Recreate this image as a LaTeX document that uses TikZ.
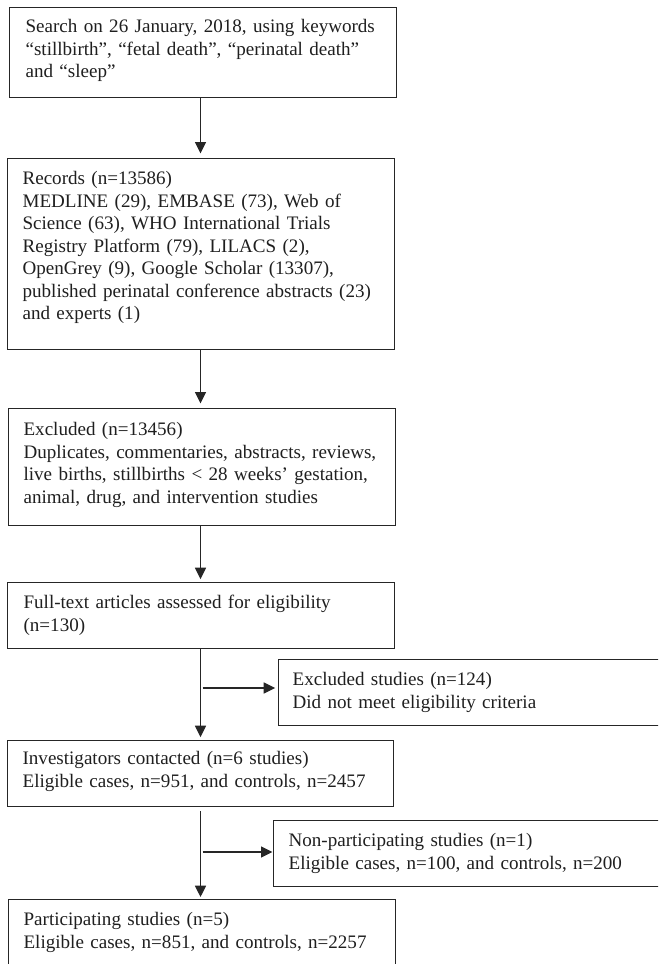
\documentclass[tikz,border=0pt]{standalone}
\usepackage{fontspec}
\setmainfont{Liberation Serif}
\usetikzlibrary{arrows.meta}
\begin{document}
\begin{tikzpicture}[x=0.75pt,y=-0.75pt,
  stage/.style={draw=black!85, line width=0.9pt, anchor=north west,
    inner ysep=0pt, align=left,
    font=\fontsize{14.3pt}{16.9pt}\selectfont, text=black!88},
  arr/.style={draw=black!85, line width=0.9pt,
    -{Triangle[length=8.5pt,width=8.3pt]}}
]
\useasboundingbox (0,0) rectangle (658,964);
\clip (0,0) rectangle (658,964);

\node[stage, inner xsep=12pt, text width=266.25pt, text height=18.75pt, text depth=48.75pt] (b1) at (9,7)
  {Search on 26 January, 2018, using keywords\\
   “stillbirth”, “fetal death”, “perinatal death”\\
   and “sleep”};

\node[stage, inner xsep=11.25pt, text width=267.75pt, text height=19.5pt, text depth=123.75pt] (b2) at (7,158)
  {Records (n=13586)\\
   MEDLINE (29), EMBASE (73), Web of\\
   Science (63), WHO International Trials\\
   Registry Platform (79), LILACS (2),\\
   OpenGrey (9), Google Scholar (13307),\\
   published perinatal conference abstracts (23)\\
   and experts (1)};

\node[stage, inner xsep=11.25pt, text width=267.75pt, text height=20.25pt, text depth=67.5pt] (b3) at (8,408)
  {Excluded (n=13456)\\
   Duplicates, commentaries, abstracts, reviews,\\
   live births, stillbirths < 28 weeks’ gestation,\\
   animal, drug, and intervention studies};

\node[stage, inner xsep=12pt, text width=266.25pt, text height=19.5pt, text depth=30pt] (b4) at (7,582)
  {Full-text articles assessed for eligibility\\
   (n=130)};

\node[stage, inner xsep=10.5pt, text width=295.5pt, text height=19.5pt, text depth=30pt] (b5) at (278,659)
  {Excluded studies (n=124)\\
   Did not meet eligibility criteria};

\node[stage, inner xsep=11.25pt, text width=267pt, text height=18pt, text depth=31.5pt] (b6) at (7,740)
  {Investigators contacted (n=6 studies)\\
   Eligible cases, n=951, and controls, n=2457};

\node[stage, inner xsep=11.25pt, text width=297.75pt, text height=19.5pt, text depth=30pt] (b7) at (273,820)
  {Non-participating studies (n=1)\\
   Eligible cases, n=100, and controls, n=200};

\node[stage, inner xsep=11.25pt, text width=267.75pt, text height=19.5pt, text depth=40pt] (b8) at (8,899)
  {Participating studies (n=5)\\
   Eligible cases, n=851, and controls, n=2257};

\coordinate (sp) at (200.5,0);
\coordinate (j1) at (202.5,688);
\coordinate (j2) at (202.5,852);

\draw[arr, shorten >=3.5pt] (b1.south -| sp) -- (b2.north -| sp);
\draw[arr, shorten >=3.5pt] (b2.south -| sp) -- (b3.north -| sp);
\draw[arr, shorten >=2.2pt] (b3.south -| sp) -- (b4.north -| sp);
\draw[arr, shorten >=2.2pt] (b4.south -| sp) -- (b6.north -| sp);
\draw[arr, shorten <=3pt, shorten >=1.5pt] (b6.south -| sp) -- (b8.north -| sp);
\draw[arr, shorten >=2.2pt] (j1) -- (j1 -| b5.west);
\draw[arr, shorten >=0.5pt] (j2) -- (j2 -| b7.west);
\end{tikzpicture}
\end{document}
